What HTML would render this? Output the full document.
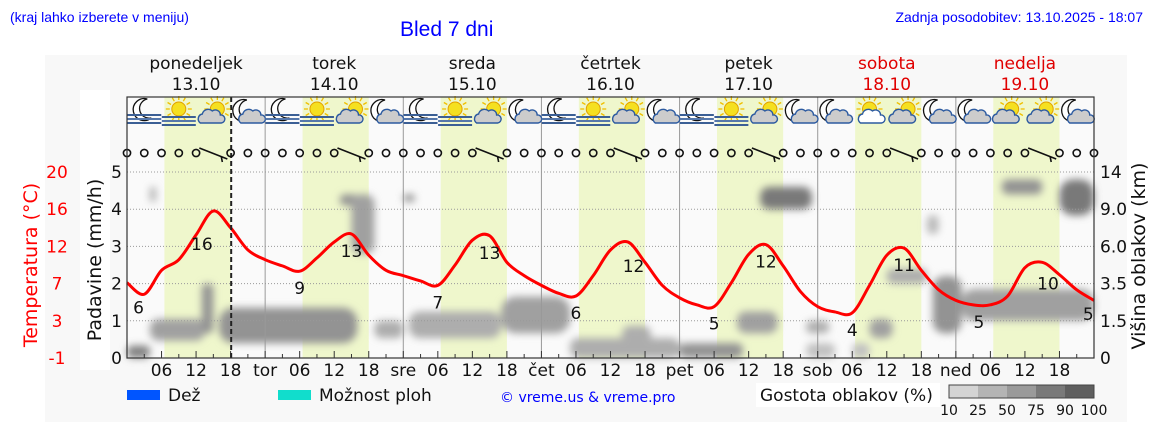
<!DOCTYPE html>
<html><head><meta charset="utf-8"><style>
body{margin:0;background:#fff;width:1152px;height:443px;overflow:hidden;font-family:"Liberation Sans","DejaVu Sans",sans-serif}
svg text{font-family:"DejaVu Sans","Liberation Sans",sans-serif}
</style></head><body>
<svg id="c" width="1152" height="443" viewBox="0 0 1152 443">
<defs><filter id="bl" x="-50%" y="-50%" width="200%" height="200%"><feGaussianBlur stdDeviation="4"/></filter></defs>
<rect x="45" y="55" width="1082" height="367" fill="#f8f8f8"/>
<rect x="80" y="90" width="30" height="280" fill="#fff"/>
<text x="10" y="22" font-size="14" fill="#0000ff" style="font-family:'Liberation Sans',sans-serif">(kraj lahko izberete v meniju)</text>
<text x="400" y="36" font-size="21" fill="#0000ff" style="font-family:'Liberation Sans',sans-serif">Bled 7 dni</text>
<text x="1143" y="22" font-size="14" fill="#0000ff" text-anchor="end" style="font-family:'Liberation Sans',sans-serif">Zadnja posodobitev: 13.10.2025 - 18:07</text>
<g id="g"></g>
</svg>
<script>
const dayNames=["ponedeljek","torek","sreda","četrtek","petek","sobota","nedelja"];
const dayDates=["13.10","14.10","15.10","16.10","17.10","18.10","19.10"];
const dayAbbr=["","tor","sre","čet","pet","sob","ned"];
const tempValues=[7.5,6.2,8.9,10.1,12.9,15.6,13.7,11.2, 10.1,9.4,8.8,10.3,12.1,13.0,10.6,8.9, 8.3,7.7,7.2,9.5,12.3,12.8,9.8,8.3, 7.2,6.3,6.0,8.3,11.2,12.1,9.8,7.2, 5.8,5.0,4.8,7.5,10.7,11.8,9.4,6.5, 4.8,4.2,4.1,7.2,10.6,11.4,8.9,6.7, 5.5,5.0,5.0,6.0,9.2,9.8,8.4,6.7,5.5];
const tempLabelText=["6","16","9","13","7","13","6","12","5","12","4","11","5","10","5"];
const tempLabelHour=[2,13,30,39,54,63,78,88,102,111,126,135,148,160,167];
const tempTicks=[20,16,12,7,3,-1];
const rainTicks=[0,1,2,3,4,5];
const kmTicks=[0,1.5,3.5,6.0,9.0,14];
const iconTypes=["mf","sf","sc","mc","mf","sf","sc","mc","mf","sf","sc","mc","mf","sf","sc","mc","mf","sf","sc","mc","mc","ss","sc","mc","mc","sc","sc","mc"];
const windBarbHours=[15,39,63,87,111,135,159];
const cloudStart=[0,4,4,13,16,37,39,43,48,49,65,77,86,96,106,110,118,118,126,129,132,139,140,145,152,162];
const cloudEnd=[4,5,13.5,15,40,40,43,48,50,65,77,96,91,107,113,119,122,123,129,133,139,141,145,168,159,168];
const cloudLow=[0,10,0.7,1,0.6,9.5,5.5,0.8,10,0.8,1,0,0.5,0,1,9,1,0,0,0.8,3.5,7,1,1.5,11,8.5];
const cloudHigh=[0.5,12,1.6,3.5,2.2,11,11,1.5,11,2,2.8,0.8,1.3,0.6,2,12,1.5,0.6,0.6,1.6,4.5,8.5,4,3.2,13,13];
const cloudDens=[75,40,50,60,60,60,50,40,60,40,50,40,40,60,50,80,40,25,25,50,40,30,60,50,60,80];
const densLabels=["10","25","50","75","90","100"];

const X0=127,X1=1094,YT=97,Y0=358,Y5=172;
const xH=h=>X0+(X1-X0)*h/168;
const yR=v=>Y0-(Y0-Y5)*v/5;
const yT=t=>Y0-(t+1)/21*(Y0-Y5);
const yK=k=>{for(let i=0;i<kmTicks.length-1;i++){if(k<=kmTicks[i+1]){const f=(k-kmTicks[i])/(kmTicks[i+1]-kmTicks[i]);return yR(i+f);}}return yR(5)};
const dCol=d=>{const c=Math.round(225-d*1.3);return `rgb(${c},${c},${c})`};
const tAt=h=>{const i=Math.min(Math.floor(h/3),tempValues.length-2),f=h/3-i;return tempValues[i]*(1-f)+tempValues[i+1]*f;};
const g=document.getElementById('g');const NS="http://www.w3.org/2000/svg";
function mk(t,a,p){const e=document.createElementNS(NS,t);for(const k in a)e.setAttribute(k,a[k]);(p||g).appendChild(e);return e;}
function tx(s,a){const e=mk('text',a);e.textContent=s;return e;}
let e=mk('rect',{x:X0,y:YT,width:X1-X0,height:Y0-YT,fill:'#fafafa'});


for(let d=0;d<7;d++){
 e=mk('rect',{x:xH(d*24+6.5),y:YT,width:xH(d*24+18)-xH(d*24+6.5),height:Y0-YT,fill:'#eff7cc'});
 
 
 e=tx(dayNames[d],{x:xH(d*24+12),y:69,'font-size':17,'text-anchor':'middle',fill:d>=5?'#e00000':'#111'});
 
 
 e=tx(dayDates[d],{x:xH(d*24+12),y:90,'font-size':17,'text-anchor':'middle',fill:d>=5?'#e00000':'#111'});
 
 
}
const cg=mk('g',{filter:'url(#bl)'});
for(let i=0;i<cloudStart.length;i++){
 const y1=yK(cloudHigh[i]),y2=yK(cloudLow[i]);
 const w=xH(cloudEnd[i])-xH(cloudStart[i]),h=Math.max(6,y2-y1);
 e=mk('rect',{x:xH(cloudStart[i]),y:y1,width:w,height:h,rx:Math.min(w,h)/2.5,fill:dCol(cloudDens[i])},cg);
 
 
}
for(let i=1;i<=5;i++){e=mk('line',{x1:X0,x2:X1,y1:yR(i),y2:yR(i),stroke:'#999','stroke-dasharray':'1,2','stroke-width':1});
 
 }
for(let d=1;d<7;d++){e=mk('line',{x1:xH(d*24),x2:xH(d*24),y1:YT,y2:Y0,stroke:'#999','stroke-width':1});
 
 }
for(let h=0;h<=168;h+=3){mk('line',{x1:xH(h),x2:xH(h),y1:Y0,y2:Y0-(h%6?4:7),stroke:'#333'});}
for(let d=0;d<7;d++){
 if(d>0){e=tx(dayAbbr[d],{x:xH(d*24),y:376,'font-size':17,'text-anchor':'middle',fill:'#111'});
  
  }
 for(const h of [6,12,18]){e=tx(String(h).padStart(2,'0'),{x:xH(d*24+h),y:376,'font-size':17,'text-anchor':'middle',fill:'#111'});
  
  }
}
let pts=tempValues.map((t,i)=>[xH(i*3),yT(t)]);
let dstr=`M${pts[0][0]},${pts[0][1]}`;
for(let i=0;i<pts.length-1;i++){const p0=pts[Math.max(0,i-1)],p1=pts[i],p2=pts[i+1],p3=pts[Math.min(pts.length-1,i+2)];
 dstr+=`C${p1[0]+(p2[0]-p0[0])/6},${p1[1]+(p2[1]-p0[1])/6} ${p2[0]-(p3[0]-p1[0])/6},${p2[1]-(p3[1]-p1[1])/6} ${p2[0]},${p2[1]}`;}
e=mk('path',{d:dstr,fill:'none',stroke:'#ff0000','stroke-width':3});


tempLabelText.forEach((s,i)=>{const h=tempLabelHour[i];
 e=tx(s,{x:xH(h),y:yT(tAt(h))+23,'font-size':17,'text-anchor':'middle',fill:'#111'});
 
 });
e=mk('line',{x1:xH(18.1),x2:xH(18.1),y1:YT,y2:Y0,stroke:'#222','stroke-width':2,'stroke-dasharray':'5,3'});


for(let h=0;h<=168;h+=3){
 if(windBarbHours.includes(h)){
  e=mk('path',{d:`M${xH(h)-14},${148} L${xH(h)+14},${159} M${xH(h)+8},${157} l1,5`,stroke:'#111','stroke-width':1.6,fill:'none'});
  
  
 } else {
  e=mk('circle',{cx:xH(h),cy:153,r:3.6,fill:'none',stroke:'#111','stroke-width':1.6});
  
  
 }
}
function sun(x,y,r){const s=mk('g',{});for(let a=0;a<12;a++){const an=a*Math.PI/6;mk('line',{x1:x+Math.cos(an)*(r+2),y1:y+Math.sin(an)*(r+2),x2:x+Math.cos(an)*(r+6),y2:y+Math.sin(an)*(r+6),stroke:'#f0c000','stroke-width':1.3},s);}mk('circle',{cx:x,cy:y,r:r,fill:'#f5e020',stroke:'#e0a000'},s);}
function moon(x,y){mk('path',{d:`M${x+3},${y-11} A11,11 0 1,0 ${x+7},${y+8} A9,9 0 1,1 ${x+3},${y-11}Z`,fill:'#fff',stroke:'#111','stroke-width':1.3});}
function cloud(x,y,f){mk('path',{d:`M${x-11},${y+6} a5,5 0 0,1 2,-9 a6,6 0 0,1 10,-3 a5,5 0 0,1 8,4 a4,4 0 0,1 1,8 Z`,fill:f||'#ccc',stroke:'#2c5aa0','stroke-width':1.4});}
function fog(x,y){for(let k=0;k<3;k++)mk('line',{x1:x-17,x2:x+17,y1:y+k*4,y2:y+k*4,stroke:k==1?'#5577aa':'#3b5f95','stroke-width':2});}
iconTypes.forEach((t,i)=>{const x=xH(i*6+3),y=113;
 if(t=='mf'){moon(x,y-3);fog(x,y+2);}
 else if(t=='sf'){sun(x,y-4,7);fog(x,y+4);}
 else if(t=='sc'){sun(x+4,y-4,7);cloud(x-2,y+4,'#ccc');}
 else if(t=='ss'){sun(x,y-4,7);cloud(x+2,y+4,'#fff');}
 else {moon(x-4,y-2);cloud(x+4,y+4,'#ccc');}
});
e=mk('rect',{x:X0,y:YT,width:X1-X0,height:Y0-YT,fill:'none',stroke:'#333','stroke-width':1.2});


rainTicks.forEach((v,i)=>{e=tx(String(v),{x:122,y:yR(v)+6,'font-size':17,'text-anchor':'end',fill:'#111'});
 
 
 e=tx(String(tempTicks[5-i]),{x:57,y:yR(v)+6,'font-size':17,'text-anchor':'middle',fill:'#ff0000'});
 
 
 e=tx(kmTicks[i]===0?'0':(kmTicks[i]===14?'14':kmTicks[i].toFixed(1)),{x:1100,y:yR(v)+6,'font-size':17,fill:'#111'});
 
 });
e=tx('Temperatura (°C)',{x:0,y:0,'font-size':19,'text-anchor':'middle',fill:'#ff0000',transform:'translate(37,265) rotate(-90)'});


e=tx('Padavine (mm/h)',{x:0,y:0,'font-size':19,'text-anchor':'middle',fill:'#111',transform:'translate(101,260) rotate(-90)'});


e=tx('Višina oblakov (km)',{x:0,y:0,'font-size':19,'text-anchor':'middle',fill:'#111',transform:'translate(1145,256) rotate(-90)'});


e=mk('rect',{x:127,y:390,width:33,height:10,fill:'#0055ff'});
e=tx('Dež',{x:168,y:401,'font-size':17,fill:'#111'});
e=mk('rect',{x:278,y:390,width:33,height:10,fill:'#11ddcc'});
e=tx('Možnost ploh',{x:319,y:401,'font-size':17,fill:'#111'});
e=tx('© vreme.us & vreme.pro',{x:500,y:402,'font-size':14,fill:'#0000ff'});
mk('rect',{x:756,y:383,width:184,height:24,fill:'#fff'});
e=tx('Gostota oblakov (%)',{x:760,y:401,'font-size':17,fill:'#111'});
const dv=[10,35,55,80,100];
for(let i=0;i<5;i++){e=mk('rect',{x:949+i*29,y:385,width:29,height:13,fill:dCol(dv[i])});}
mk('rect',{x:949,y:385,width:145,height:13,fill:'none',stroke:'#444'});
densLabels.forEach((s,i)=>{e=tx(s,{x:949+i*29,y:415,'font-size':14,'text-anchor':'middle',fill:'#111'});});
</script>
</body></html>
